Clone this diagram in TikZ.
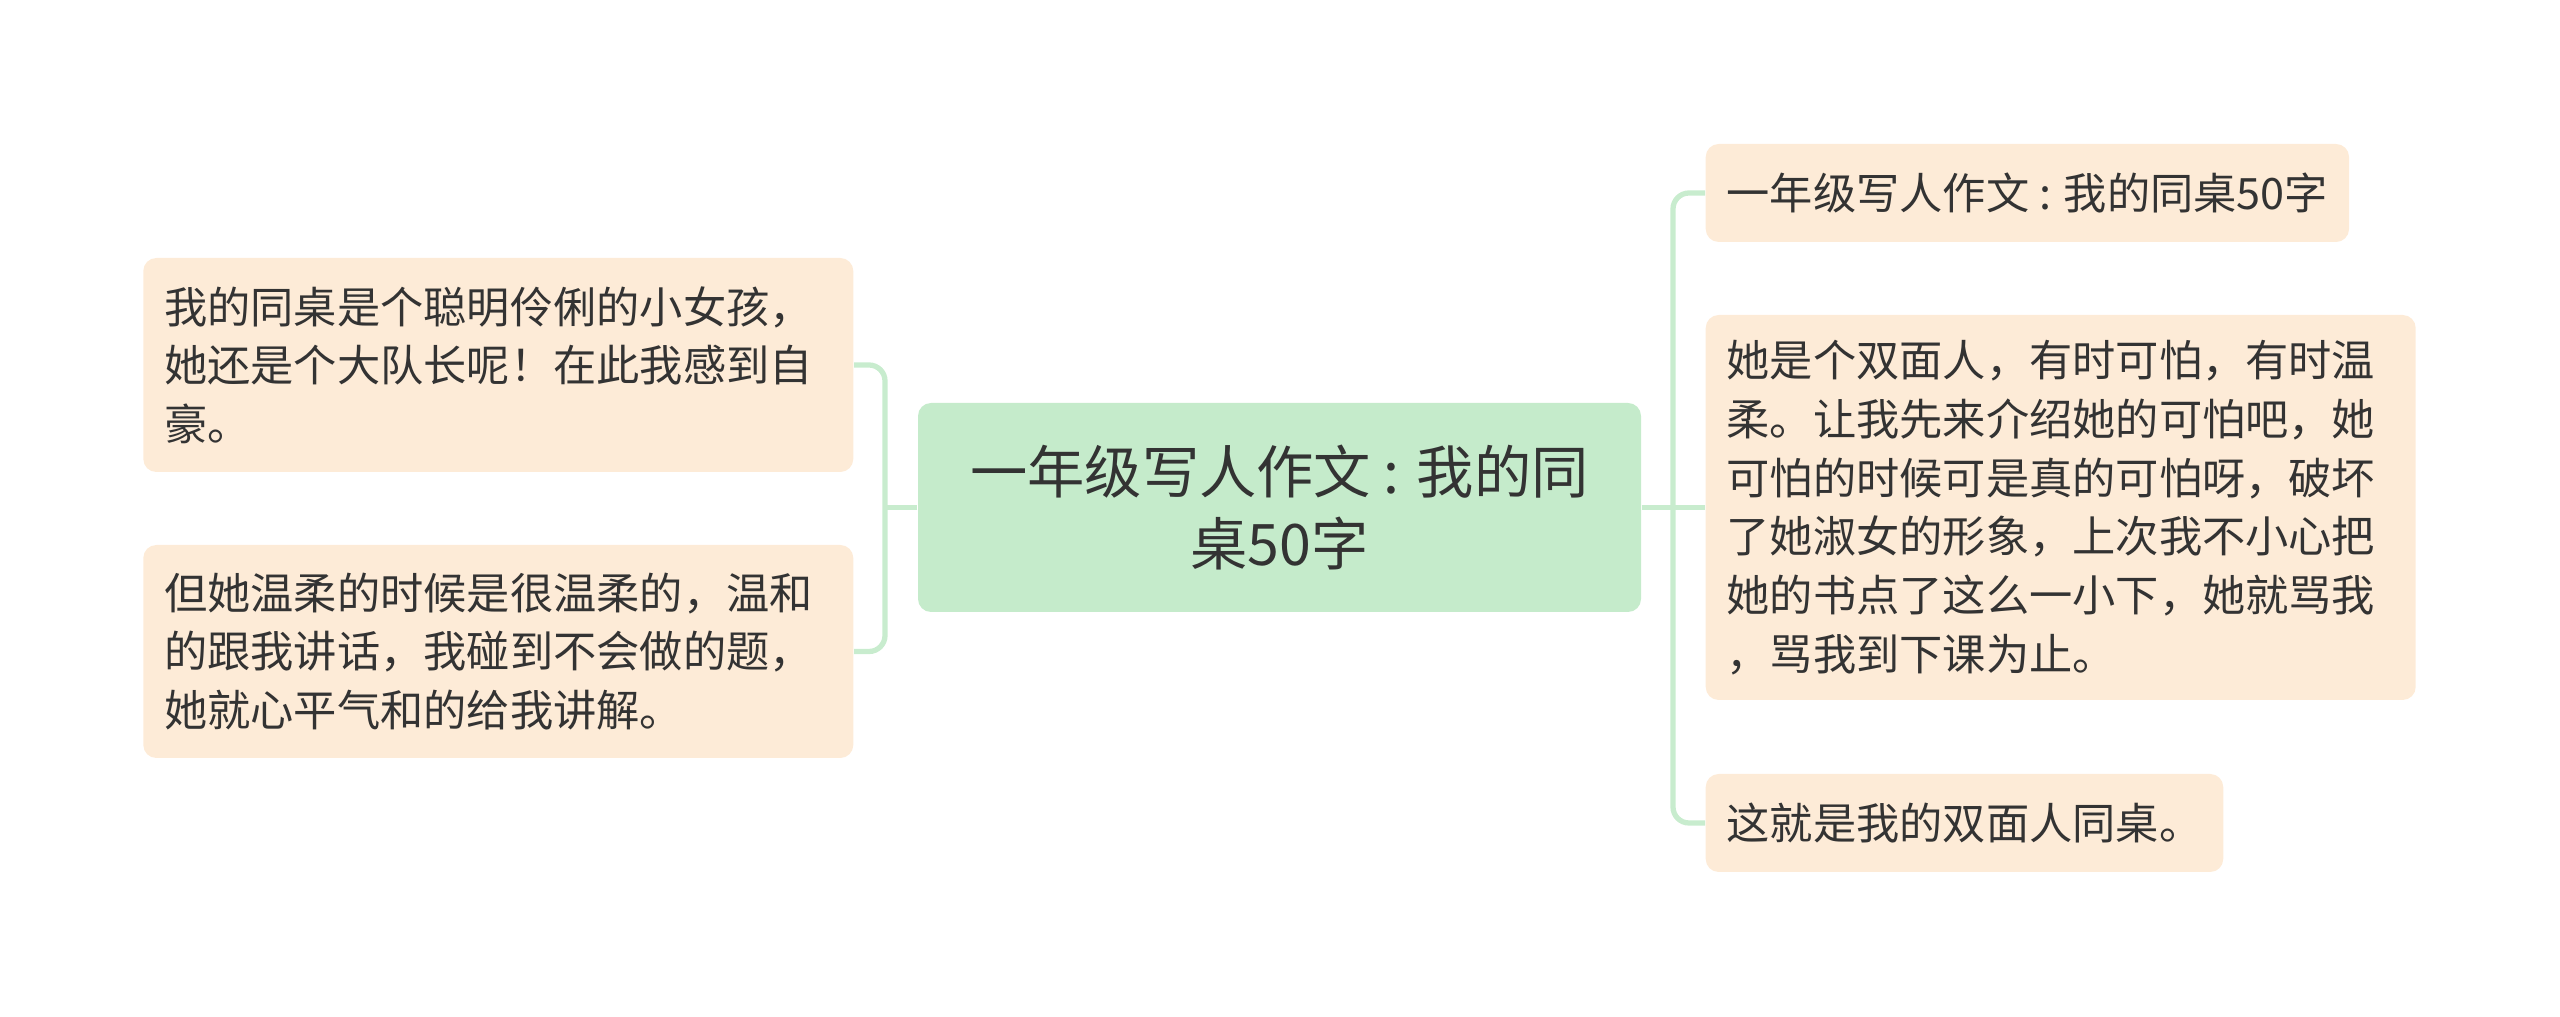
\documentclass[tikz,border=0pt]{standalone}
\usepackage{fontspec}
\setmainfont{Noto Sans CJK SC}
\definecolor{leafbg}{RGB}{253,235,215}
\definecolor{rootbg}{RGB}{197,235,203}
\definecolor{linkgreen}{RGB}{200,236,206}
\definecolor{inkgray}{RGB}{51,51,51}

\begin{document}
\begin{tikzpicture}[
    leaf/.style={rectangle, rounded corners=0.13cm, fill=leafbg, text=inkgray, inner xsep=0.21cm, inner ysep=0.08cm, font=\fontsize{12.3}{16.7}\selectfont, align=left},
    rootbox/.style={rectangle, rounded corners=0.13cm, fill=rootbg, text=inkgray, minimum width=7.23cm, minimum height=2.09cm, font=\fontsize{16.3}{20.4}\selectfont, align=center},
    link/.style={draw=linkgreen, line width=1.5pt, rounded corners=0.16cm}
]
    \useasboundingbox (0,0) rectangle (25.6,-10.17);

    % Center
    \node[rootbox] (main) at (12.795,-5.075) {一年级写人作文 : 我的同\\桌50字};

    % Left branches
    \node[leaf, anchor=east, text width=6.68cm, minimum height=2.14cm] (left1) at (8.54,-3.65) {我的同桌是个聪明伶俐的小女孩，\\她还是个大队长呢！在此我感到自\\豪。};
    \node[leaf, anchor=east, text width=6.68cm, minimum height=2.13cm] (left2) at (8.54,-6.515) {但她温柔的时候是很温柔的，温和\\的跟我讲话，我碰到不会做的题，\\她就心平气和的给我讲解。};

    % Right branches
    \node[leaf, anchor=west, minimum height=0.98cm] (right1) at (17.05,-1.93) {一年级写人作文 : 我的同桌50字};
    \node[leaf, anchor=west, text width=6.68cm, minimum height=3.85cm] (right2) at (17.05,-5.075) {她是个双面人，有时可怕，有时温\\柔。让我先来介绍她的可怕吧，她\\可怕的时候可是真的可怕呀，破坏\\了她淑女的形象，上次我不小心把\\她的书点了这么一小下，她就骂我\\，骂我到下课为止。};
    \node[leaf, anchor=west, minimum height=0.98cm] (right3) at (17.05,-8.23) {这就是我的双面人同桌。};

    % Connectors
    \coordinate (ltrunk) at (8.85,-5.075);
    \coordinate (rtrunk) at (16.73,-5.075);
    \draw[link] (main.west) -- (ltrunk);
    \draw[link] (left1.east) -| (ltrunk) |- (left2.east);
    \draw[link] (main.east) -- (right2.west);
    \draw[link] (right1.west) -| (rtrunk) |- (right3.west);
\end{tikzpicture}
\end{document}
